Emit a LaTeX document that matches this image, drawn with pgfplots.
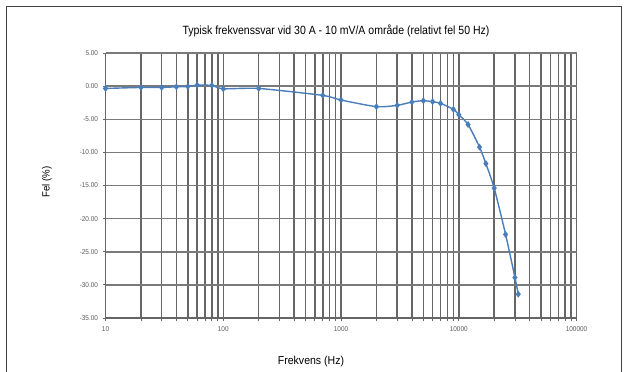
\documentclass[border=0pt]{standalone}
\usepackage{fontspec}
\setmainfont{Liberation Sans}
\newfontfamily\narrow[FakeStretch=0.92]{Liberation Sans}
\newfontfamily\titlefont[FakeStretch=0.88]{Liberation Sans}
\usepackage{pgfplots}
\pgfplotsset{compat=1.18}

\definecolor{serie}{HTML}{4A7EBB}
\definecolor{gridc}{HTML}{666666}
\definecolor{hgridc}{HTML}{7A7A7A}
\definecolor{framec}{HTML}{404040}

% Relative error (%) versus frequency (Hz)
\pgfplotstableread{
f      err
10     -0.35
20     -0.20
30     -0.20
40     -0.10
50     -0.05
60      0.15
80      0.10
100    -0.40
200    -0.35
700    -1.40
1000   -2.10
2000   -3.10
3000   -2.90
4000   -2.40
5000   -2.20
6000   -2.35
7000   -2.60
9000   -3.50
10000  -4.30
12000  -5.80
15000  -9.20
17000  -11.70
20000  -15.40
25000  -22.40
30000  -28.90
32000  -31.40
}\freqdata

\begin{document}
\begin{tikzpicture}[x=1bp,y=1bp]
\useasboundingbox (0,0) rectangle (629,371);
\draw[line width=1.6bp, framec] (6.5,-5) -- (6.5,364.5) -- (621.5,364.5) -- (621.5,-5);
\node[font=\titlefont\fontsize{12}{14}\selectfont] at (336,340) {Typisk frekvenssvar vid 30 A - 10 mV/A område (relativt fel 50 Hz)};
\node[font=\narrow\fontsize{11.5}{13}\selectfont] at (311,9) {Frekvens (Hz)};
\node[font=\narrow\fontsize{10.5}{12}\selectfont, rotate=90] at (47,189) {Fel (\%)};
\begin{axis}[
  at={(105.5bp,53bp)}, anchor=south west,
  scale only axis, width=471bp, height=265bp,
  xmode=log, log basis x=10,
  xmin=10, xmax=100000,
  ymin=-35, ymax=5,
  xtick={10,100,1000,10000,100000},
  xticklabels={10,100,1000,10000,100000},
  minor xtick={20,30,40,50,60,70,80,90,
               200,300,400,500,600,700,800,900,
               2000,3000,4000,5000,6000,7000,8000,9000,
               20000,30000,40000,50000,60000,70000,80000,90000},
  ytick={-35,-30,-25,-20,-15,-10,-5,0,5},
  yticklabels={-35.00,-30.00,-25.00,-20.00,-15.00,-10.00,-5.00,0.00,5.00},
  minor y tick num=0,
  xmajorgrids, xminorgrids, ymajorgrids,
  x grid style={gridc, line width=1.5bp},
  y grid style={hgridc, line width=1.5bp},
  axis line style={gridc, line width=1.5bp},
  axis x line*=bottom, axis y line*=left,
  x axis line style={-}, y axis line style={-},
  tick style={gridc, line width=0.8bp},
  major tick length=3bp, minor tick length=3bp,
  tick align=outside,
  xtick pos=bottom, ytick pos=left,
  tick label style={font=\narrow\fontsize{7}{8}\selectfont, text=black!65},
  yticklabel style={xshift=-1bp},
  xticklabel style={yshift=-2bp},
  clip=false,
]
\addplot[serie, line width=1.4bp, smooth, tension=0.4,
  mark=diamond*, mark size=2.3bp, mark options={fill=serie, draw=serie}]
  table[x=f, y=err] {\freqdata};
\end{axis}
\end{tikzpicture}
\end{document}
